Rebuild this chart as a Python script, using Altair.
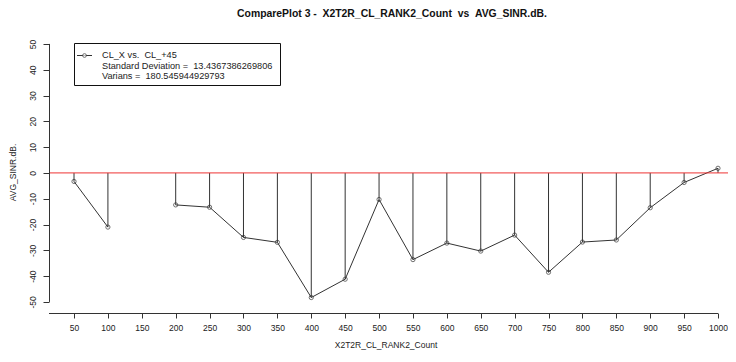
import altair as alt
import pandas as pd

# ---- data ----
counts = [50, 100, 150, 200, 250, 300, 350, 400, 450, 500,
          550, 600, 650, 700, 750, 800, 850, 900, 950, 1000]
sinr = [-3.3, -21.0, None, -12.4, -13.3, -25.0, -26.9, -48.3, -41.2, -10.3,
        -33.6, -27.2, -30.3, -24.1, -38.5, -26.8, -26.0, -13.5, -3.7, 1.8]
x_ticks = list(range(50, 1001, 50))
y_ticks = list(range(-50, 51, 10))
NB = "\u00a0"
legend_lines = ["CL_X vs. " + NB + "CL_+45",
                "Standard Deviation = " + NB + "13.4367386269806",
                "Varians = " + NB + "180.545944929793"]
main_title = ("ComparePlot 3 - " + NB + "X2T2R_CL_RANK2_Count " + NB +
              "vs " + NB + "AVG_SINR.dB.")
x_title = "X2T2R_CL_RANK2_Count"
y_title = "AVG_SINR.dB."

X_DOMAIN = [13.1, 1014.75]
Y_DOMAIN = [-54.3, 55.4]
W, H = 679, 283
FONT = "Liberation Sans"
TXT = "#222222"
LN = "#333333"

rows = []
seg = 0
for c, v in zip(counts, sinr):
    if v is None:
        seg += 1
        continue
    rows.append({"count": c, "sinr": v, "seg": seg})
df = pd.DataFrame(rows)

xs = alt.Scale(domain=X_DOMAIN, nice=False, zero=False)
ys = alt.Scale(domain=Y_DOMAIN, nice=False, zero=False)

x_axis = alt.Axis(
    values=x_ticks, domain=False, tickSize=5, tickColor=LN, labelPadding=5,
    labelExpr="'' + datum.value",
    labelFont=FONT, labelFontSize=8.5, labelColor=TXT, grid=False,
    title=x_title, titleFont=FONT, titleFontSize=8.5, titleFontWeight="normal",
    titleColor=TXT, titleX=336.5, titleY=31, titleAlign="center",
    titleBaseline="middle", labelFlush=False, labelOverlap=False,
    labelBound=False, labelSeparation=0)
y_axis = alt.Axis(
    values=y_ticks, domain=False, tickSize=6, tickColor=LN, labelPadding=6,
    labelExpr="'' + datum.value",
    labelAngle=270, labelAlign="center", labelBaseline="bottom",
    labelFont=FONT, labelFontSize=8.5, labelColor=TXT, grid=False,
    title=y_title, titleFont=FONT, titleFontSize=8.5, titleFontWeight="normal",
    titleColor=TXT, titleX=-36.5, titleY=142, titleAngle=270,
    titleAlign="center", titleBaseline="middle", labelFlush=False,
    labelOverlap=False, labelBound=False, labelSeparation=0)

X = alt.X("count:Q", scale=xs, axis=x_axis)
Y = alt.Y("sinr:Q", scale=ys, axis=y_axis)

base = alt.Chart(df)

stems = base.mark_rule(color=LN, strokeWidth=1).encode(
    x=X, y=Y, y2="zero:Q").transform_calculate(zero="0")

line = base.mark_line(color=LN, strokeWidth=1).encode(
    x=X, y=Y, detail="seg:N", order="count:Q")

points = base.mark_point(shape="circle", filled=False, size=18,
                         color=LN, strokeWidth=1).encode(x=X, y=Y)

zero_line = alt.Chart(pd.DataFrame({"sinr": [0]})).mark_rule(
    color="#ee3333", strokeWidth=1).encode(y=Y)

y_axis_line = alt.Chart(pd.DataFrame({"sinr": [-50], "sinr2": [50]})).mark_rule(
    color=LN, strokeWidth=1).encode(x=alt.value(0.5), y=Y, y2="sinr2:Q")
x_axis_line = alt.Chart(pd.DataFrame({"count": [X_DOMAIN[0]],
                                      "count2": [1000]})).mark_rule(
    color=LN, strokeWidth=1).encode(y=alt.value(H + 0.5), x=X, x2="count2:Q")

one = pd.DataFrame({"k": [0]})
legend_box = alt.Chart(one).mark_rect(
    fill="white", stroke="#111111", strokeWidth=1).encode(
    x=alt.value(25.5), x2=alt.value(231.5),
    y=alt.value(13.5), y2=alt.value(55.5))
legend_sym_line = alt.Chart(one).mark_rule(color=LN, strokeWidth=1).encode(
    x=alt.value(28), x2=alt.value(43), y=alt.value(25.5))
legend_sym_pt = alt.Chart(one).mark_point(
    shape="circle", filled=False, size=14, color=LN, strokeWidth=1,
    fill="white").encode(x=alt.value(35.5), y=alt.value(25.5))
legend_layers = []
for txt, yy in zip(legend_lines, [25, 36, 46]):
    legend_layers.append(
        alt.Chart(one).mark_text(
            align="left", baseline="middle", font=FONT, fontSize=9.2,
            color=TXT, text=txt).encode(x=alt.value(53), y=alt.value(yy)))

chart = alt.layer(
    stems, line, points, zero_line, y_axis_line, x_axis_line,
    legend_box, legend_sym_line, legend_sym_pt, *legend_layers
).properties(
    width=W, height=H,
    title=alt.TitleParams(main_title, font=FONT, fontSize=10.4,
                          fontWeight="bold", color="#111111",
                          anchor="middle", dx=3.5, dy=10.5, offset=11,
                          baseline="bottom"),
    autosize=alt.AutoSizeParams(type="none"),
    padding={"left": 41, "top": 22, "right": 0, "bottom": 41},
    background="white",
).configure_view(stroke=None).configure_axis(labelOverlap=False)

chart.save("out.html", embed_options={"renderer": "svg", "actions": False})
